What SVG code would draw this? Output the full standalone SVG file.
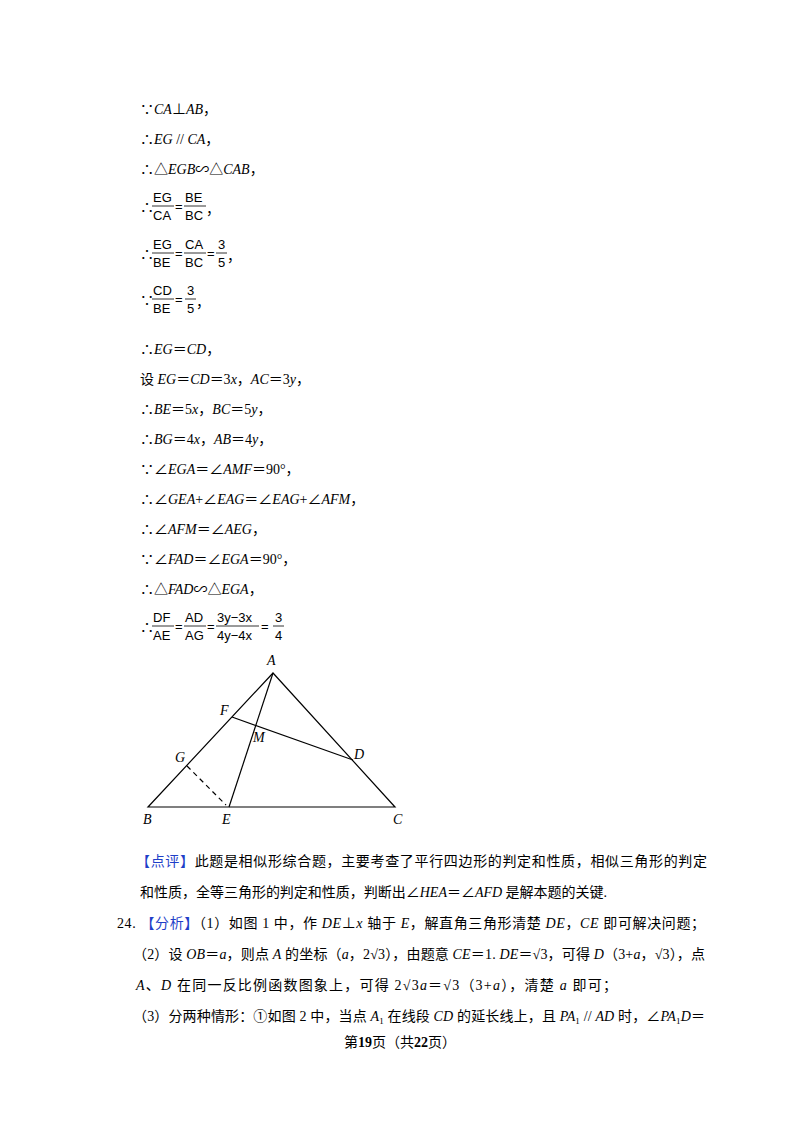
<svg xmlns="http://www.w3.org/2000/svg" width="800" height="1132" viewBox="0 0 800 1132">
<style>
text{font-family:"Liberation Serif","Noto Sans CJK SC",serif;font-size:14px;fill:#000}
.i{font-style:italic}
.f{font-family:"Liberation Sans Narrow","Liberation Sans",sans-serif;font-size:13px}
.b{fill:#1f3fc8}
.fl{stroke:#000;stroke-width:0.8}
.ln{stroke:#000;stroke-width:1.2;fill:none}
</style>
<rect width="800" height="1132" fill="#fff"/>
<g id="text">
<text x="140" y="114">∵<tspan class="i">CA</tspan>⊥<tspan class="i">AB</tspan>，</text>
<text x="140" y="144">∴<tspan class="i">EG</tspan> // <tspan class="i">CA</tspan>，</text>
<text x="140" y="174">∴△<tspan class="i">EGB</tspan>∽△<tspan class="i">CAB</tspan>，</text>
<text x="140" y="212">∴</text>
<text class="f" x="153" y="202">EG</text><line class="fl" x1="152" y1="206" x2="174" y2="206"/><text class="f" x="153" y="220">CA</text>
<text class="f" x="175" y="211">=</text>
<text class="f" x="185" y="202">BE</text><line class="fl" x1="184" y1="206" x2="206" y2="206"/><text class="f" x="185" y="220">BC</text>
<text x="206" y="214">，</text>
<text x="140" y="259">∴</text>
<text class="f" x="153" y="249">EG</text><line class="fl" x1="152" y1="253" x2="174" y2="253"/><text class="f" x="153" y="267">BE</text>
<text class="f" x="175" y="258">=</text>
<text class="f" x="185" y="249">CA</text><line class="fl" x1="184" y1="253" x2="206" y2="253"/><text class="f" x="185" y="267">BC</text>
<text class="f" x="207" y="258">=</text>
<text class="f" x="218" y="249">3</text><line class="fl" x1="216" y1="253" x2="227" y2="253"/><text class="f" x="218" y="267">5</text>
<text x="227" y="261">，</text>
<text x="140" y="305">∵</text>
<text class="f" x="153" y="295">CD</text><line class="fl" x1="152" y1="299" x2="174" y2="299"/><text class="f" x="153" y="313">BE</text>
<text class="f" x="175" y="304">=</text>
<text class="f" x="187" y="295">3</text><line class="fl" x1="185" y1="299" x2="196" y2="299"/><text class="f" x="187" y="313">5</text>
<text x="196" y="307">，</text>
<text x="140" y="354">∴<tspan class="i">EG</tspan>＝<tspan class="i">CD</tspan>，</text>
<text x="140" y="384">设 <tspan class="i">EG</tspan>＝<tspan class="i">CD</tspan>＝3<tspan class="i">x</tspan>，<tspan class="i">AC</tspan>＝3<tspan class="i">y</tspan>，</text>
<text x="140" y="414">∴<tspan class="i">BE</tspan>＝5<tspan class="i">x</tspan>，<tspan class="i">BC</tspan>＝5<tspan class="i">y</tspan>，</text>
<text x="140" y="444">∴<tspan class="i">BG</tspan>＝4<tspan class="i">x</tspan>，<tspan class="i">AB</tspan>＝4<tspan class="i">y</tspan>，</text>
<text x="140" y="474">∵∠<tspan class="i">EGA</tspan>＝∠<tspan class="i">AMF</tspan>＝90°，</text>
<text x="140" y="504">∴∠<tspan class="i">GEA</tspan>+∠<tspan class="i">EAG</tspan>＝∠<tspan class="i">EAG</tspan>+∠<tspan class="i">AFM</tspan>，</text>
<text x="140" y="534">∴∠<tspan class="i">AFM</tspan>＝∠<tspan class="i">AEG</tspan>，</text>
<text x="140" y="564">∵∠<tspan class="i">FAD</tspan>＝∠<tspan class="i">EGA</tspan>＝90°，</text>
<text x="140" y="594">∴△<tspan class="i">FAD</tspan>∽△<tspan class="i">EGA</tspan>，</text>
<text x="140" y="632">∴</text>
<text class="f" x="153" y="622">DF</text><line class="fl" x1="152" y1="626" x2="174" y2="626"/><text class="f" x="153" y="640">AE</text>
<text class="f" x="175" y="631">=</text>
<text class="f" x="185" y="622">AD</text><line class="fl" x1="184" y1="626" x2="206" y2="626"/><text class="f" x="185" y="640">AG</text>
<text class="f" x="207" y="631">=</text>
<text class="f" x="217" y="622">3y−3x</text><line class="fl" x1="216" y1="626" x2="259" y2="626"/><text class="f" x="217" y="640">4y−4x</text>
<text class="f" x="261" y="631">=</text>
<text class="f" x="275" y="622">3</text><line class="fl" x1="273" y1="626" x2="284" y2="626"/><text class="f" x="275" y="640">4</text>
</g>
<g id="figure">
<polygon class="ln" points="273,673 148,807 395,807" stroke-width="1"/>
<line class="ln" x1="273" y1="673" x2="229" y2="807" stroke-width="1.8"/>
<line class="ln" x1="232" y1="717" x2="353" y2="760" stroke-width="1.8"/>
<line class="ln" x1="187" y1="766" x2="226" y2="805" stroke-dasharray="5,4" stroke-width="0.9"/>
<text class="i" x="267" y="665" font-size="13">A</text>
<text class="i" x="220" y="715" font-size="13">F</text>
<text class="i" x="253" y="742" font-size="13">M</text>
<text class="i" x="175" y="762" font-size="13">G</text>
<text class="i" x="354" y="759" font-size="13">D</text>
<text class="i" x="143" y="824" font-size="13">B</text>
<text class="i" x="222" y="824" font-size="13">E</text>
<text class="i" x="393" y="824" font-size="13">C</text>
</g>
<g id="notes">
<text x="136" y="866" textLength="571" lengthAdjust="spacing"><tspan class="b">【点评】</tspan>此题是相似形综合题，主要考查了平行四边形的判定和性质，相似三角形的判定</text>
<text x="140" y="897" textLength="467" lengthAdjust="spacing">和性质，全等三角形的判定和性质，判断出∠<tspan class="i">HEA</tspan>＝∠<tspan class="i">AFD</tspan> 是解本题的关键.</text>
<text x="117" y="928" textLength="588" lengthAdjust="spacing">24. <tspan class="b">【分析】</tspan>（1）如图 1 中，作 <tspan class="i">DE</tspan>⊥<tspan class="i">x</tspan> 轴于 <tspan class="i">E</tspan>，解直角三角形清楚 <tspan class="i">DE</tspan>，<tspan class="i">CE</tspan> 即可解决问题；</text>
<text x="133" y="959" textLength="572" lengthAdjust="spacing">（2）设 <tspan class="i">OB</tspan>＝<tspan class="i">a</tspan>，则点 <tspan class="i">A</tspan> 的坐标（<tspan class="i">a</tspan>，2√3），由题意 <tspan class="i">CE</tspan>＝1. <tspan class="i">DE</tspan>＝√3，可得 <tspan class="i">D</tspan>（3+<tspan class="i">a</tspan>，√3），点</text>
<text x="136" y="990" textLength="481" lengthAdjust="spacing"><tspan class="i">A</tspan>、<tspan class="i">D</tspan> 在同一反比例函数图象上，可得 2√3<tspan class="i">a</tspan>＝√3（3+<tspan class="i">a</tspan>），清楚 <tspan class="i">a</tspan> 即可；</text>
<text x="133" y="1021" textLength="572" lengthAdjust="spacing">（3）分两种情形：①如图 2 中，当点 <tspan class="i">A</tspan><tspan font-size="9" dy="3">1</tspan><tspan dy="-3"> 在线段 </tspan><tspan class="i">CD</tspan> 的延长线上，且 <tspan class="i">PA</tspan><tspan font-size="9" dy="3">1</tspan><tspan dy="-3"> // </tspan><tspan class="i">AD</tspan> 时，∠<tspan class="i">PA</tspan><tspan font-size="9" dy="3">1</tspan><tspan class="i" dy="-3">D</tspan>＝</text>
<text x="400" y="1047" text-anchor="middle" font-size="12">第<tspan font-weight="bold" font-size="14">19</tspan>页（共<tspan font-weight="bold" font-size="14">22</tspan>页）</text>
</g>
</svg>
